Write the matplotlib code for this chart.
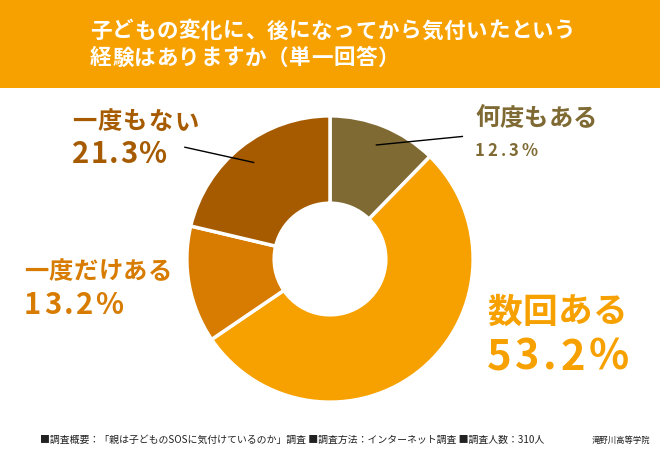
import numpy as np
import matplotlib
matplotlib.use("Agg")
import matplotlib.pyplot as plt
from matplotlib.patches import Rectangle

plt.rcParams['font.family'] = ['Noto Sans CJK JP', 'DejaVu Sans']

# データ
labels = ["何度もある", "数回ある", "一度だけある", "一度もない"]
values = [12.3, 53.2, 13.2, 21.3]
colors = ["#7f6a34", "#f7a100", "#d77c00", "#a65b00"]
title_lines = ["子どもの変化に、後になってから気付いたという", "経験はありますか（単一回答）"]
footer = "■調査概要：「親は子どものSOSに気付けているのか」調査 ■調査方法：インターネット調査 ■調査人数：310人"
source = "滝野川高等学院"

W, H = 660, 450
fig = plt.figure(figsize=(W / 100, H / 100), dpi=100)
renderer = fig.canvas.get_renderer()


def px(x, y):
    # ピクセル座標（左上原点）→ figure座標
    return x / W, 1 - y / H


def spaced(x, y, s, spacing=0.0, **kw):
    # 字間を空けて1文字ずつ描く
    for ch in s:
        t = fig.text(*px(x, y), ch, va="center", ha="left", **kw)
        x += t.get_window_extent(renderer).width + spacing
    return x


# ヘッダー帯
fig.patches.append(Rectangle((0, 1 - 88 / H), 1, 88 / H, transform=fig.transFigure,
                             facecolor="#f7a100", edgecolor="none", zorder=0))
spaced(90, 31, title_lines[0], 0.6, color="white", fontsize=15.5, fontweight="bold")
spaced(90, 58, title_lines[1], 0.6, color="white", fontsize=15.5, fontweight="bold")

# ドーナツ
cx, cy, r = 330, 259, 146
ax = fig.add_axes([(cx - r) / W, (H - cy - r) / H, 2 * r / W, 2 * r / H])
wedges, _ = ax.pie(values, colors=colors, startangle=90, counterclock=False,
                   radius=1, wedgeprops=dict(width=0.61, edgecolor="white", linewidth=2.5))
ax.set_xlim(-1.02, 1.02)
ax.set_ylim(-1.02, 1.02)
ax.set_aspect("equal")
ax.axis("off")

# ラベル
lab = dict(fontweight="bold")
spaced(475, 119, labels[0], 0.3, color=colors[0], fontsize=17.5, **lab)
spaced(475, 151, f"{values[0]}%", 3.0, color=colors[0], fontsize=12, **lab)
spaced(487, 312, labels[1], 0.7, color=colors[1], fontsize=25, **lab)
spaced(487, 358, f"{values[1]}%", 3.5, color=colors[1], fontsize=30, **lab)
spaced(24, 272, labels[2], 0.5, color=colors[2], fontsize=17.5, **lab)
spaced(24, 305, f"{values[2]}%", 2.5, color=colors[2], fontsize=21, **lab)
spaced(72, 122, labels[3], 1.3, color=colors[3], fontsize=17.5, **lab)
spaced(72, 154, f"{values[3]}%", 1.2, color=colors[3], fontsize=21, **lab)

# 引き出し線
def leader(i, end_px, rr=0.86):
    w = wedges[i]
    mid = np.deg2rad((w.theta1 + w.theta2) / 2)
    start = (rr * np.cos(mid), rr * np.sin(mid))
    ex, ey = end_px
    end = ((ex - cx) / r, (cy - ey) / r)
    ax.plot([start[0], end[0]], [start[1], end[1]], color="black", lw=1, clip_on=False)

leader(0, (465, 134))
leader(3, (182, 145))

# フッター
fig.text(*px(40, 440), footer, fontsize=7.15, color="#222222", va="center", ha="left")
fig.text(*px(592, 440), source, fontsize=6, color="#222222", va="center", ha="left")

fig.savefig("out.png", dpi=100)
